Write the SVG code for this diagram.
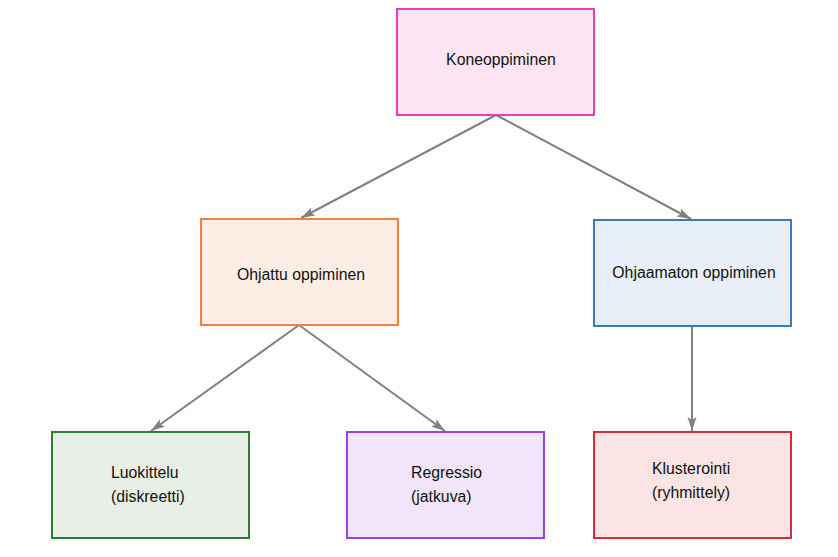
<svg xmlns="http://www.w3.org/2000/svg" width="838" height="557" viewBox="0 0 838 557">
<style>
.node rect{stroke-width:2}
text{font-family:"Liberation Sans",Arial,sans-serif;font-size:15.8px;fill:#111}
.edge{stroke:#808080;stroke-width:2;fill:none}
</style>
<defs>
<marker id="arr" viewBox="0 0 14 10" refX="14" refY="5" markerWidth="14" markerHeight="10" markerUnits="userSpaceOnUse" orient="auto">
<path d="M0,0.5 L14,5 L0,9.5 L3,5 z" fill="#808080"/>
</marker>
</defs>
<rect width="838" height="557" fill="#fff"/>
<g id="connectors">
<line class="edge" x1="496" y1="115" x2="301" y2="218" marker-end="url(#arr)"/>
<line class="edge" x1="496" y1="115" x2="691" y2="219" marker-end="url(#arr)"/>
<line class="edge" x1="299" y1="325" x2="151" y2="431" marker-end="url(#arr)"/>
<line class="edge" x1="299" y1="325" x2="445" y2="431" marker-end="url(#arr)"/>
<line class="edge" x1="692" y1="326" x2="692" y2="431" marker-end="url(#arr)"/>
</g>
<g id="koneoppiminen" class="node">
<rect x="397" y="9" width="197" height="106" fill="#fde4f2" stroke="#e83fae"/>
<text x="501" y="65" text-anchor="middle">Koneoppiminen</text>
</g>
<g id="ohjattu" class="node">
<rect x="201" y="219" width="197" height="106" fill="#fdeee5" stroke="#f0823f"/>
<text x="301" y="280" text-anchor="middle">Ohjattu oppiminen</text>
</g>
<g id="ohjaamaton" class="node">
<rect x="594" y="220" width="197" height="106" fill="#e8eff9" stroke="#3a7bbf"/>
<text x="694" y="278" text-anchor="middle">Ohjaamaton oppiminen</text>
</g>
<g id="luokittelu" class="node">
<rect x="52" y="432" width="197" height="106" fill="#e7efe6" stroke="#2e7d32"/>
<text x="111" y="478">Luokittelu</text>
<text x="111" y="502">(diskreetti)</text>
</g>
<g id="regressio" class="node">
<rect x="347" y="432" width="197" height="106" fill="#f2e5fb" stroke="#9b3fe6"/>
<text x="411" y="478">Regressio</text>
<text x="411" y="502">(jatkuva)</text>
</g>
<g id="klusterointi" class="node">
<rect x="594" y="432" width="197" height="106" fill="#fbe4e4" stroke="#d32f2f"/>
<text x="652" y="474">Klusterointi</text>
<text x="652" y="498">(ryhmittely)</text>
</g>
</svg>
